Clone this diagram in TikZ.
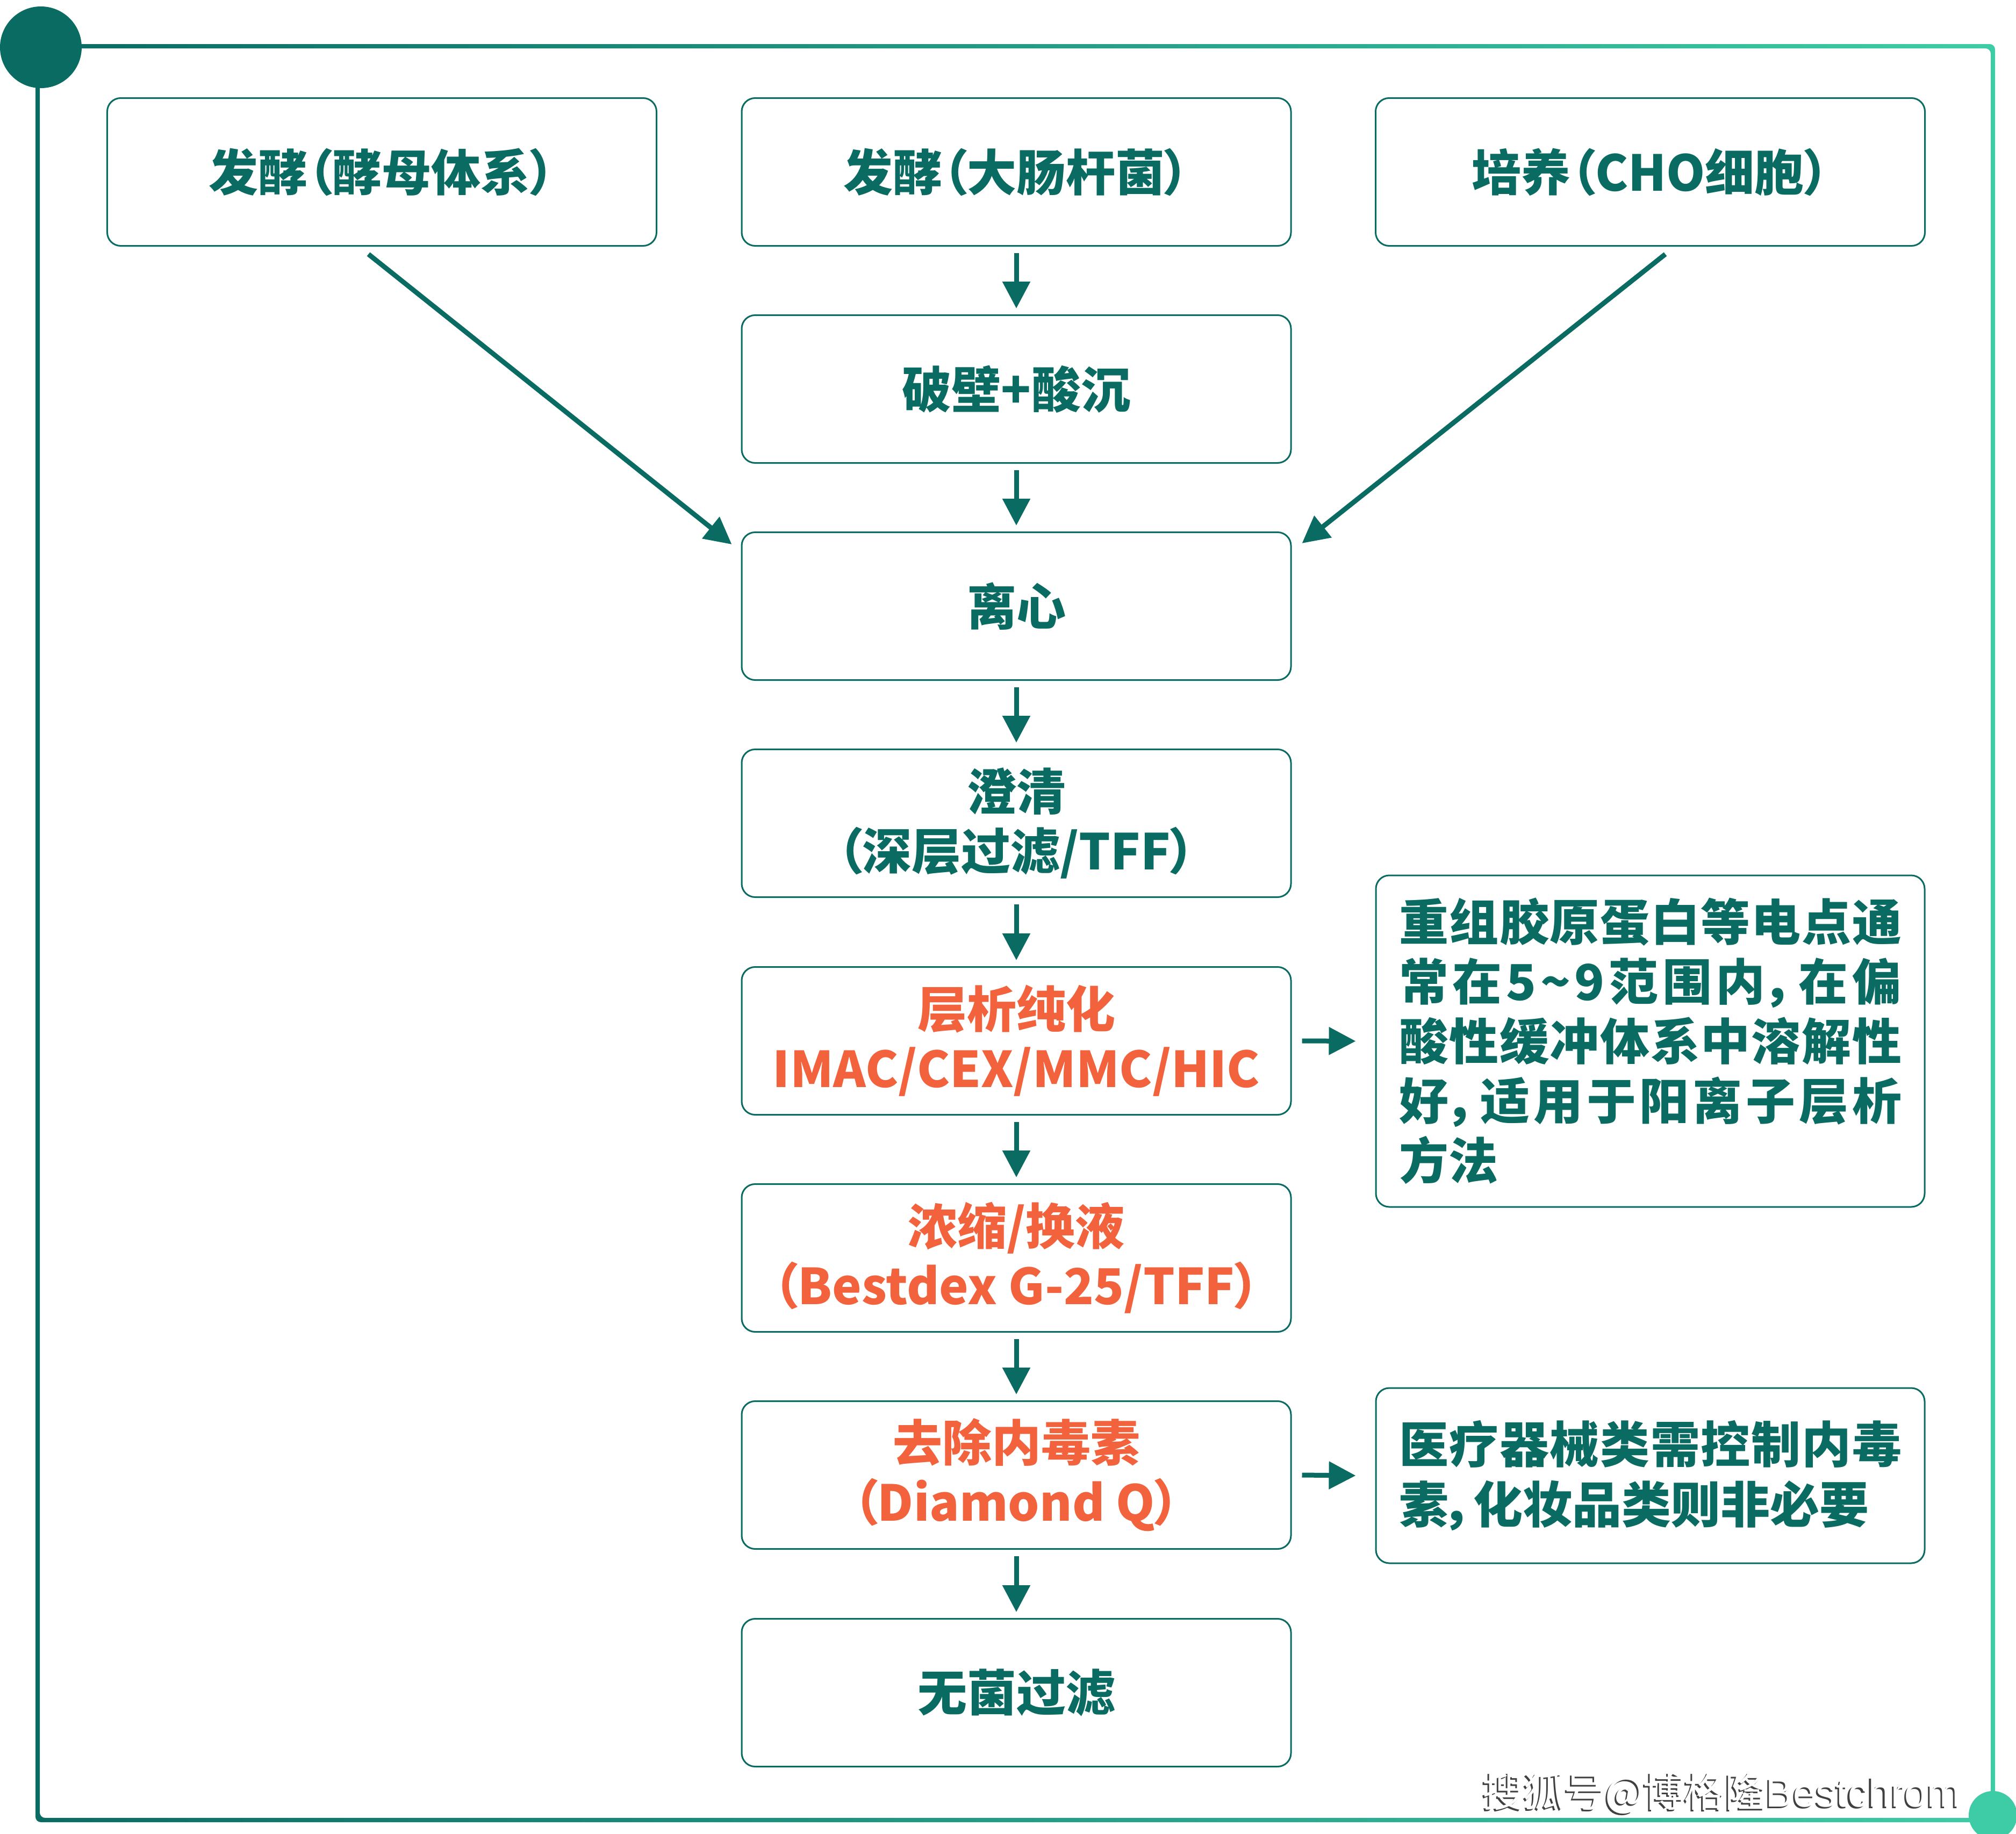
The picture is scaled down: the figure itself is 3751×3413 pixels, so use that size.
\documentclass[tikz,border=0pt]{standalone}
\usepackage{fontspec}
\usetikzlibrary{arrows.meta}
\newfontfamily\cjk{Noto Sans CJK SC}[RawFeature=+palt]
\newfontfamily\wmcjk{Noto Sans CJK SC}
\newfontfamily\wmlat{Liberation Sans}
\definecolor{teal1}{RGB}{10,107,99}
\definecolor{mint}{RGB}{62,204,166}
\definecolor{orng}{RGB}{242,98,60}
\newcommand\tild{\symbol{126}}
\makeatletter
\def\spreadline#1{\makebox[187pt][s]{\spr@first#1\relax}}
\def\spr@first#1{#1\spr@rest}
\def\spr@rest#1{\ifx\relax#1\else\hfill#1\expandafter\spr@rest\fi}
\makeatother
\newcommand\bxfont{\cjk\bfseries\fontsize{18.4pt}{22.2pt}\selectfont}
\begin{document}
\begin{tikzpicture}[x=0.2pt,y=-0.2pt,
  stepbox/.style={draw=teal1, line width=0.6pt, rounded corners=5pt, fill=white,
    minimum width=204.4pt, minimum height=55pt, inner sep=0pt, align=center,
    font=\bxfont, text=teal1},
  hot/.style={text=orng},
  notebox/.style={draw=teal1, line width=0.6pt, rounded corners=5pt, fill=white,
    minimum width=204.2pt, inner sep=0pt, text width=187pt, align=left,
    font=\bxfont, text=teal1},
  arr/.style={draw=teal1, line width=1.8pt, -{Triangle[length=10pt,width=10pt]}},
  wm/.style={anchor=base west, inner sep=0pt, font=\wmcjk\fontsize{15.2pt}{18pt}\selectfont}
]
\useasboundingbox (0,0) rectangle (3751,3413);
\fill[white] (0,0) rectangle (3751,3413);
% frame
\shade[left color=teal1, right color=mint, even odd rule, rounded corners=2pt]
  (66,82) rectangle (3712,3391) (74,90) rectangle (3704,3383);
\fill[teal1] (76,88) circle[radius=15.2pt];
\fill[mint] (3708,3378) circle[radius=9pt];

% nodes
\node[stepbox] (n1l) at (710.5,320) {发酵（酵母体系）};
\node[stepbox] (n1) at (1891,320) {发酵（大肠杆菌）};
\node[stepbox] (n1r) at (3070.5,320) {培养（CHO细胞）};
\node[stepbox] (n2) at (1891,724) {破壁+酸沉};
\node[stepbox] (n3) at (1891,1128) {离心};
\node[stepbox] (n4) at (1891,1532) {澄清\\（深层过滤/TFF）};
\node[stepbox, hot] (n5) at (1891,1937) {层析纯化\\IMAC/CEX/MMC/HIC};
\node[stepbox, hot] (n6) at (1891,2341) {浓缩/换液\\（Bestdex G-25/TFF）};
\node[stepbox, hot] (n7) at (1891,2745) {去除内毒素\\（Diamond Q）};
\node[stepbox] (n8) at (1891,3150) {无菌过滤};
\node[notebox, minimum height=123.4pt] (c1) at (3070.5,1937.5) {%
\spreadline{重组胶原蛋白等电点通}\\
\spreadline{常在5\tild 9范围内，在偏}\\
\spreadline{酸性缓冲体系中溶解性}\\
\spreadline{好，适用于阳离子层析}\\
方法};
\node[notebox, minimum height=65.2pt] (c2) at (3070.5,2746) {%
\spreadline{医疗器械类需控制内毒}\\
素，化妆品类则非必要};

% arrows
\foreach \a/\b in {n1/n2,n2/n3,n3/n4,n4/n5,n5/n6,n6/n7,n7/n8}
  \draw[arr] ([yshift=-2.4pt]\a.south) -- ([yshift=2.2pt]\b.north);
\draw[arr] ([shift={(-25,14)}]n1l.south) -- ([shift={(-17,24)}]n3.north west);
\draw[arr] ([shift={(28,14)}]n1r.south) -- ([shift={(19,22)}]n3.north east);
\draw[arr] ([xshift=3.8pt]n5.east) -- ([xshift=-7.2pt]c1.west);
\draw[arr] ([xshift=3.8pt]n7.east) -- ([xshift=-7.2pt]c2.west);

% watermark
\node[wm, text=black!75] (wms) at (2754,3365) {搜狐号@博格隆{\wmlat Bestchrom}};
\node[wm, text=white] (wmt) at (2757,3362) {搜狐号@博格隆{\wmlat Bestchrom}};
\end{tikzpicture}
\end{document}
